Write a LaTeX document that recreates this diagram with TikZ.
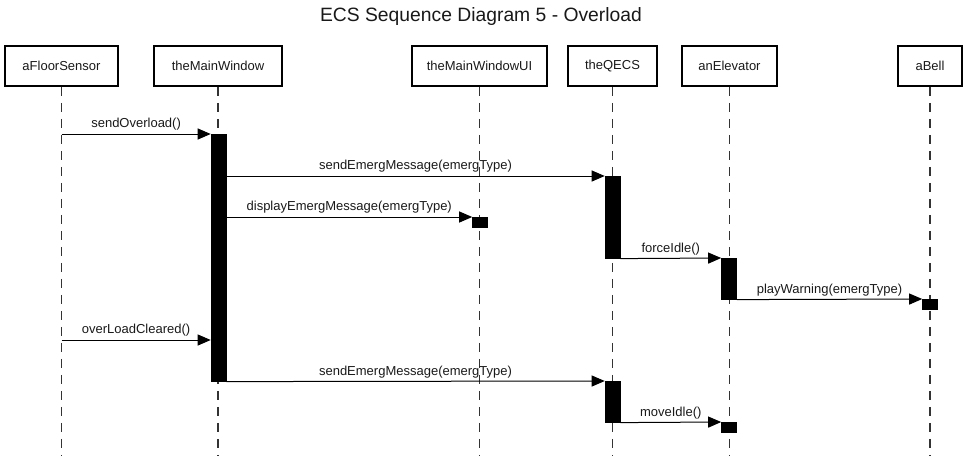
\documentclass[tikz,border=0pt]{standalone}
\usepackage{fontspec}
\setmainfont{Liberation Sans}
\usetikzlibrary{arrows.meta}
\begin{document}
\begin{tikzpicture}[x=1pt,y=-1pt,
 obj/.style={draw=black,line width=1.8pt,minimum height=40pt,inner sep=0pt,font=\fontsize{13}{15}\selectfont,text=black!90},
 life/.style={draw=black!80,line width=1.2pt,dash pattern=on 9pt off 7pt},
 actbar/.style={fill=black,draw=black,line width=0.6pt,minimum width=15pt,inner sep=0pt,anchor=north},
 msg/.style={draw=black,line width=1pt,-{Triangle[length=13pt,width=11pt,fill=black]}},
 lbl/.style={above,inner sep=3pt,font=\fontsize{13}{15}\selectfont,text=black!90}]
\useasboundingbox (0,0) rectangle (968,455);
\node[font=\fontsize{19.3}{22}\selectfont,text=black!90] (title) at (481,17) {ECS Sequence Diagram 5 - Overload};
% objects
\node[obj,minimum width=113pt] (fs) at (61.5,66) {aFloorSensor};
\node[obj,minimum width=128pt] (mw) at (218,66) {theMainWindow};
\node[obj,minimum width=135pt] (ui) at (479.5,66) {theMainWindowUI};
\node[obj,minimum width=89pt] (qe) at (612.5,66) {theQECS};
\node[obj,minimum width=95pt] (el) at (729.5,66) {anElevator};
\node[obj,minimum width=64pt] (be) at (930,66) {aBell};
% lifeline ends
\coordinate (fsE) at (61.5,455);
\coordinate (mwE) at (218,455);
\coordinate (uiE) at (479.5,455);
\coordinate (qeE) at (612.5,455);
\coordinate (elE) at (729.5,455);
\coordinate (beE) at (930,455);
\draw[life] (fs.south) -- (fsE);
\draw[life] (mw.south) -- (mwE);
\draw[life] (ui.south) -- (uiE);
\draw[life] (qe.south) -- (qeE);
\draw[life] (el.south) -- (elE);
\draw[life] (be.south) -- (beE);
% activation bars
\node[actbar,minimum height=247pt] (mb) at (218.5,134) {};
\node[actbar,minimum height=82pt] (qb1) at (612.5,176) {};
\node[actbar,minimum height=10pt] (ub) at (480,217) {};
\node[actbar,minimum height=41pt] (eb1) at (729,258) {};
\node[actbar,minimum height=10pt] (bb) at (930,299) {};
\node[actbar,minimum height=41pt] (qb2) at (612.5,381) {};
\node[actbar,minimum height=10pt] (eb2) at (729,422) {};
% message sources on lifeline
\coordinate (fsA) at (fs.south |- mb.north);
\coordinate (fsB) at (61.5,340);
\coordinate (mbB) at (mb.west |- fsB);
% messages
\draw[msg] (fsA) -- node[lbl]{sendOverload()} (mb.north west);
\draw[msg] (mb.east |- qb1.north) -- node[lbl]{sendEmergMessage(emergType)} (qb1.north west);
\draw[msg] (mb.east |- ub.north) -- node[lbl]{displayEmergMessage(emergType)} (ub.north west);
\draw[msg] (qb1.south east) -- node[lbl]{forceIdle()} (eb1.north west);
\draw[msg] (eb1.south east) -- node[lbl]{playWarning(emergType)} (bb.north west);
\draw[msg] (fsB) -- node[lbl]{overLoadCleared()} (mbB);
\draw[msg] (mb.south east) -- node[lbl]{sendEmergMessage(emergType)} (qb2.north west);
\draw[msg] (qb2.south east) -- node[lbl]{moveIdle()} (eb2.north west);
\end{tikzpicture}
\end{document}
